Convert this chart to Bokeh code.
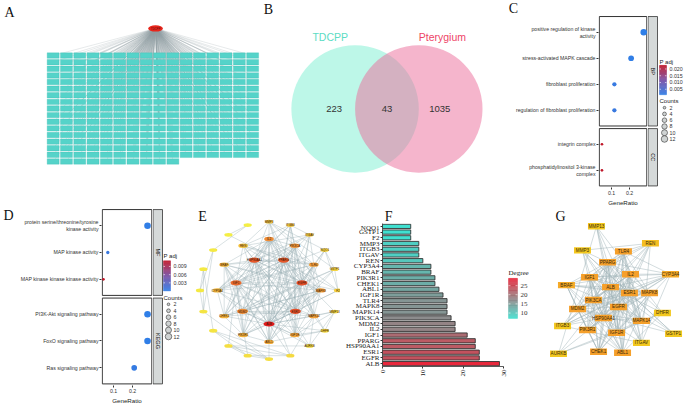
import math
from bokeh.plotting import figure
from bokeh.layouts import row, column
from bokeh.models import (Range1d, FactorRange, FixedTicker, LinearColorMapper,
                          ColumnDataSource)
from bokeh.transform import transform
from bokeh.core.properties import value
from bokeh.embed import file_html
from bokeh.resources import INLINE

# ======================= DATA =======================
# A / B : Venn of TDCPP targets vs pterygium genes
venn_sets = ["TDCPP", "Pterygium"]
venn_only_tdcpp = 223
venn_common = 43
venn_only_pter = 1035
hub_name = "TDCPP"

# C : GO (BP / CC) enrichment
c_terms = ["positive regulation of kinase\nactivity", "stress-activated MAPK cascade",
           "fibroblast proliferation", "regulation of fibroblast proliferation",
           "integrin complex", "phosphatidylinositol 3-kinase\ncomplex"]
c_facets = ["BP", "BP", "BP", "BP", "CC", "CC"]
c_ratio = [0.279, 0.209, 0.116, 0.116, 0.047, 0.047]
c_count = [12, 9, 5, 5, 2, 2]
c_padj = [0.0009, 0.0013, 0.0021, 0.0024, 0.0227, 0.0226]
c_padj_ticks = [0.005, 0.010, 0.015, 0.020]

# D : GO (MF) / KEGG enrichment
d_terms = ["protein serine/threonine/tyrosine\nkinase activity", "MAP kinase activity",
           "MAP kinase kinase kinase activity", "PI3K-Akt signaling pathway",
           "FoxO signaling pathway", "Ras signaling pathway"]
d_facets = ["MF", "MF", "MF", "KEGG", "KEGG", "KEGG"]
d_ratio = [0.279, 0.070, 0.047, 0.279, 0.279, 0.209]
d_count = [12, 3, 2, 12, 12, 9]
d_padj = [0.0002, 0.0008, 0.0111, 0.0000, 0.0001, 0.0005]
d_padj_ticks = [0.003, 0.006, 0.009]

count_breaks = [2, 4, 6, 8, 10, 12]

# F : degree of hub genes
f_genes = ["NQO1", "GSTP1", "F2", "MMP3", "ITGB3", "ITGAV", "REN", "CYP3A4", "BRAF",
           "PIK3R1", "CHEK1", "ABL1", "IGF1R", "TLR4", "MAPK8", "MAPK14", "PIK3CA",
           "MDM2", "IL2", "IGF1", "PPARG", "HSP90AA1", "ESR1", "EGFR", "ALB"]
f_degree = [7, 7, 7, 9, 9, 9, 10, 12, 12, 13, 13, 14, 15, 16, 16, 16, 17, 18, 18,
            21, 23, 23, 24, 24, 29]
f_ticks = [0, 10, 20, 30]
f_cbar_ticks = [10, 15, 20, 25]

# E : PPI network (extra low-degree nodes, estimated; their labels are unreadable)
e_extra_genes = ["MMP13", "DHFR", "AURKB"]
e_extra_degree = [6, 6, 6]
e_unlabeled_degree = [6, 5, 5, 5, 4, 4, 3, 3, 3, 2, 2]
e_ring_sizes = [7, 12, 20]

# G : core network, node layout (normalised 0..1)
g_genes = ["MMP13", "REN", "MMP3", "TLR4", "PPARG", "IL2", "CYP3A4", "IGF1", "BRAF", "ALB",
           "ESR1", "MAPK8", "PIK3CA", "EGFR", "MDM2", "DHFR", "HSP90AA1", "MAPK14", "ITGB3",
           "PIK3R1", "IGF1R", "GSTP1", "ITGAV", "AURKB", "CHEK1", "ABL1"]
g_layout_x = [0.413, 0.773, 0.320, 0.593, 0.487, 0.640, 0.907, 0.367, 0.213, 0.507,
              0.633, 0.767, 0.393, 0.560, 0.287, 0.853, 0.460, 0.713, 0.187,
              0.353, 0.547, 0.927, 0.713, 0.160, 0.427, 0.587]
g_layout_y = [0.108, 0.192, 0.227, 0.232, 0.286, 0.345, 0.345, 0.360, 0.399, 0.409,
              0.438, 0.438, 0.473, 0.507, 0.517, 0.537, 0.562, 0.576, 0.601,
              0.621, 0.635, 0.640, 0.685, 0.739, 0.729, 0.734]

# ======================= HELPERS =======================
SX = 684 / 685
SY = 406 / 408
SANS = "Liberation Sans"
SERIF = "Liberation Serif"
LETTER_SIZE = "14px"


def ramp(stops, n=256):
    rgb = [tuple(int(s[i:i + 2], 16) for i in (1, 3, 5)) for s in stops]
    out = []
    for i in range(n):
        t = i / (n - 1) * (len(rgb) - 1)
        k = min(int(t), len(rgb) - 2)
        f = t - k
        out.append("#%02x%02x%02x" % tuple(
            round(rgb[k][j] + (rgb[k + 1][j] - rgb[k][j]) * f) for j in range(3)))
    return out


def make_fig(region, frame=None, x_range=None, y_range=None, axes=False):
    rx0, ry0, rx1, ry1 = region
    fx0, fy0, fx1, fy1 = frame or region
    W = round(rx1 * SX) - round(rx0 * SX)
    H = round(ry1 * SY) - round(ry0 * SY)
    L = round(fx0 * SX) - round(rx0 * SX)
    R = round(rx1 * SX) - round(fx1 * SX)
    T = round(fy0 * SY) - round(ry0 * SY)
    B = round(ry1 * SY) - round(fy1 * SY)
    kw = {} if axes else dict(x_axis_type=None, y_axis_type=None)
    p = figure(width=W, height=H, x_range=x_range, y_range=y_range, title=None,
               output_backend="svg", toolbar_location=None,
               min_border_left=L, min_border_right=R, min_border_top=T,
               min_border_bottom=B, **kw)
    p.outline_line_color = None
    p.grid.visible = False
    p.background_fill_color = "white"
    p.border_fill_color = "white"
    return p


def letter_text(p, ch, x, y):
    p.text(x=[x], y=[y], text=[ch], text_font=value(SERIF), text_font_size=LETTER_SIZE,
           text_color="#111111", text_align="center", text_baseline="middle")


def letter_strip(region, ch, xr, yr):
    rx0, ry0, rx1, ry1 = region
    p = make_fig(region, x_range=Range1d(rx0, rx1), y_range=Range1d(ry1, ry0))
    letter_text(p, ch, xr, yr)
    return p


def havel_hakimi(deg):
    rem = list(deg)
    n = len(rem)
    edges = []
    while True:
        order = sorted(range(n), key=lambda i: (-rem[i], i))
        v = order[0]
        if rem[v] <= 0:
            break
        tg = [u for u in order[1:] if rem[u] > 0][:rem[v]]
        for u in tg:
            edges.append((v, u))
            rem[u] -= 1
        rem[v] = 0
    return edges


def pt_size(c):
    return 1.9 * math.sqrt(c)


def color_bar(p, pal, low, high, x0, x1, yb, yt, ticks, fmt, tick_x, font, fsize,
              title, title_x, title_y, title_size):
    n = 48
    edges = [yb + (yt - yb) * i / n for i in range(n + 1)]
    cols = [pal[round((i + 0.5) / n * (len(pal) - 1))] for i in range(n)]
    p.quad(left=[x0] * n, right=[x1] * n, bottom=edges[:-1], top=edges[1:],
           fill_color=cols, line_color=cols, line_width=0.3)
    ty = [yb + (t - low) / (high - low) * (yt - yb) for t in ticks]
    tw = (x1 - x0) * 0.22
    p.segment(x0=[x0] * len(ty), y0=ty, x1=[x0 + tw] * len(ty), y1=ty,
              line_color="white", line_width=0.6)
    p.segment(x0=[x1 - tw] * len(ty), y0=ty, x1=[x1] * len(ty), y1=ty,
              line_color="white", line_width=0.6)
    p.text(x=[tick_x] * len(ty), y=ty, text=[fmt % t for t in ticks],
           text_font=value(font), text_font_size=fsize, text_color="#333333",
           text_align="left", text_baseline="middle")
    p.text(x=[title_x], y=[title_y], text=[title], text_font=value(font),
           text_font_size=title_size, text_color="#222222", text_align="left",
           text_baseline="middle")


PAL_PADJ = ramp(["#2f7fe8", "#7850a6", "#c0182a"])

# ======================= PANEL A =======================
RA = (0, 0, 262, 209)
n_targets = venn_only_tdcpp + venn_common
ncol = 16
a_cols = [i % ncol for i in range(n_targets)]
a_rows = [i // ncol for i in range(n_targets)]
ax_ = lambda xr: (xr - 46) / 13.3 - 0.5
ay_ = lambda yr: (yr - 52) / 6.65 - 0.5
pa = make_fig(RA, x_range=Range1d(ax_(0), ax_(262)), y_range=Range1d(ay_(209), ay_(0)))
hub_x, hub_y = (ncol - 1) / 2 + 0.2, -4.1
pa.segment(x0=[hub_x] * n_targets, y0=[hub_y] * n_targets, x1=a_cols, y1=a_rows,
           line_color="#8e9ea3", line_alpha=0.55, line_width=0.4)
pa.rect(x=a_cols, y=a_rows, width=0.9, height=0.82, fill_color="#55d3c9",
        line_color="#3cbcb2", line_width=0.3)
pa.ellipse(x=[hub_x], y=[hub_y], width=1.1, height=0.95, fill_color="#e8261c",
           line_color=None)
pa.text(x=[hub_x], y=[hub_y], text=[hub_name], text_font=value(SANS),
        text_font_size="2.8px", text_color="#5a0a0a", text_align="center",
        text_baseline="middle")
letter_text(pa, "A", ax_(9), ay_(12))

# ======================= PANEL B =======================
RB = (262, 0, 487, 209)
bx_ = lambda xr: (xr - 387) / 64
by_ = lambda yr: (109 - yr) / 64
pb = make_fig(RB, x_range=Range1d(bx_(262), bx_(487)), y_range=Range1d(by_(209), by_(0)))
pb.circle(x=[-0.5], y=[0], radius=1, fill_color="#7cf0d2", fill_alpha=0.5, line_color=None)
pb.circle(x=[0.5], y=[0], radius=1, fill_color="#ec6c9a", fill_alpha=0.5, line_color=None)
pb.text(x=[-0.83, 0, 0.83], y=[0, 0, 0],
        text=[str(venn_only_tdcpp), str(venn_common), str(venn_only_pter)],
        text_font=value(SANS), text_font_size="9.5px", text_color="#333333",
        text_align="center", text_baseline="middle")
pb.text(x=[-0.89, 0.87], y=[1.13, 1.13], text=venn_sets, text_font=value(SANS),
        text_font_size="10.5px", text_color=["#5cdcc4", "#ee4466"],
        text_align="center", text_baseline="middle")
letter_text(pb, "B", bx_(268), by_(9))


# ======================= PANELS C / D =======================
def dot_panel(region_main, frame_main, region_leg, x01, x02, panel_r_ref, strip_r_ref,
              y0_ref, terms, facets, ratios, counts, padj, cb_ticks, cb_box, cnt_box):
    ppu = (x02 - x01) / 0.1
    xd = lambda xr: 0.1 + (xr - x01) / ppu
    yd = lambda yr: (yr - y0_ref) / 2.83
    forder = list(dict.fromkeys(facets))
    ys = [i * 10 + forder.index(f) * 3 for i, f in enumerate(facets)]
    ymax = max(ys)
    y_start, y_end = ymax + 6.6, -6.4
    fx0, fy0, fx1, fy1 = frame_main
    p = make_fig(region_main, frame_main, Range1d(xd(fx0), xd(fx1)),
                 Range1d(y_start, y_end), axes=True)
    frame_leg = (region_leg[0], fy0, region_leg[2], fy1)
    q = make_fig(region_leg, frame_leg, Range1d(xd(region_leg[0]), xd(region_leg[2])),
                 Range1d(y_start, y_end))
    pl = xd(fx0 + 0.8)
    prt = xd(panel_r_ref)
    sl, srt = xd(region_leg[0] + 0.5), xd(strip_r_ref)
    lo, hi = [], []
    for f in forder:
        fy = [y for y, ff in zip(ys, facets) if ff == f]
        lo.append(min(fy) - 6)
        hi.append(max(fy) + 6)
    nf = len(forder)
    p.quad(left=[pl] * nf, right=[prt] * nf, top=lo, bottom=hi, fill_color=None,
           line_color="#333333", line_width=1)
    q.quad(left=[sl] * nf, right=[srt] * nf, top=lo, bottom=hi, fill_color="#d5d9d9",
           line_color="#333333", line_width=0.8)
    q.text(x=[(sl + srt) / 2] * nf, y=[(a + b) / 2 for a, b in zip(lo, hi)], text=forder,
           angle=-math.pi / 2, text_font=value(SANS), text_font_size="5.5px",
           text_color="#1a1a1a", text_align="center", text_baseline="middle")
    mapper = LinearColorMapper(palette=PAL_PADJ, low=min(padj), high=max(padj))
    src = ColumnDataSource(dict(x=ratios, y=ys, s=[pt_size(c) for c in counts], padj=padj))
    p.scatter("x", "y", size="s", source=src, fill_color=transform("padj", mapper),
              line_color=None)
    xa = p.xaxis[0]
    xa.ticker = FixedTicker(ticks=[0.1, 0.2])
    xa.axis_label = "GeneRatio"
    ya = p.yaxis[0]
    ya.ticker = FixedTicker(ticks=ys)
    ya.major_label_overrides = {y: t for y, t in zip(ys, terms)}
    for ax in (xa, ya):
        ax.axis_line_color = None
        ax.major_tick_line_color = "#333333"
        ax.major_tick_out = 2
        ax.major_tick_in = 0
        ax.minor_tick_line_color = None
        ax.major_label_text_font = SANS
        ax.major_label_text_font_size = "5.2px"
        ax.major_label_text_color = "#333333"
        ax.major_label_standoff = 1
        ax.axis_label_text_font = SANS
        ax.axis_label_text_font_size = "6.2px"
        ax.axis_label_text_font_style = "normal"
        ax.axis_label_text_color = "#222222"
        ax.axis_label_standoff = 1
    # colour bar (legend)
    cbx, cbtop, cbbot, cbw, cbtitle_y = cb_box
    color_bar(q, PAL_PADJ, min(padj), max(padj), xd(cbx), xd(cbx + cbw), yd(cbbot),
              yd(cbtop), cb_ticks, "%.3f", xd(cbx + cbw + 3), SANS, "5.3px",
              "P adj", xd(cbx), yd(cbtitle_y), "6px")
    # size legend
    cxc, cxt, ctx, cty, cy0, cdy = cnt_box
    ly = [yd(cy0 + k * cdy) for k in range(len(count_breaks))]
    q.scatter(x=[xd(cxc)] * len(ly), y=ly, size=[pt_size(c) for c in count_breaks],
              fill_color="#cfd3d3", line_color="#333333", line_width=0.6)
    q.text(x=[xd(cxt)] * len(ly), y=ly, text=[str(c) for c in count_breaks],
           text_font=value(SANS), text_font_size="5.3px", text_color="#333333",
           text_align="left", text_baseline="middle")
    q.text(x=[xd(ctx)], y=[yd(cty)], text=["Counts"], text_font=value(SANS),
           text_font_size="6px", text_color="#222222", text_align="left",
           text_baseline="middle")
    return p, q


pc_top = letter_strip((487, 0, 685, 15), "C", 514, 8)
pc, qc = dot_panel((487, 15, 648, 209), (599, 15, 648, 191), (648, 15, 685, 209),
                   612, 630, 647.3, 658, 32,
                   c_terms, c_facets, c_ratio, c_count, c_padj, c_padj_ticks,
                   (660, 68, 100, 7, 64), (665, 670, 660, 107, 114, 6.8))

pd_let = letter_strip((0, 209, 14, 408), "D", 8, 217)
pdd, qd = dot_panel((14, 209, 152, 408), (101, 209, 152, 388), (152, 209, 188, 408),
                    113, 132, 151.3, 162, 222,
                    d_terms, d_facets, d_ratio, d_count, d_padj, d_padj_ticks,
                    (163, 259, 291, 7, 254), (168, 173, 163, 298, 305, 6.8))

# ======================= PANEL E =======================
RE = (188, 209, 340, 408)
e_names = f_genes + e_extra_genes + [""] * len(e_unlabeled_degree)
e_deg = f_degree + e_extra_degree + e_unlabeled_degree
e_edges = havel_hakimi(e_deg)
n_e = len(e_names)
e_order = sorted(range(n_e), key=lambda i: (-e_deg[i], i))
radii = [0.49, 0.75, 1.0]
starts = [270, 90, 90]
dirs = [1, -1, -1]
ew = [0.16, 0.14, 0.12]
eh = [0.075, 0.065, 0.055]
ex, ey, exw, exh = [0.0] * n_e, [0.0] * n_e, [0.0] * n_e, [0.0] * n_e
k = 0
for ring, size in enumerate(e_ring_sizes):
    for j in range(size):
        i = e_order[k]
        k += 1
        a = math.radians(starts[ring] + dirs[ring] * j * 360 / size)
        ex[i], ey[i] = radii[ring] * math.cos(a), radii[ring] * math.sin(a)
        exw[i], exh[i] = ew[ring], eh[ring]
ex_ = lambda xr: (xr - 268.5) / 69
ey_ = lambda yr: (291.3 - yr) / 69
pe = make_fig(RE, x_range=Range1d(ex_(188), ex_(340)), y_range=Range1d(ey_(408), ey_(209)))
pe.segment(x0=[ex[a] for a, b in e_edges], y0=[ey[a] for a, b in e_edges],
           x1=[ex[b] for a, b in e_edges], y1=[ey[b] for a, b in e_edges],
           line_color="#9aafb4", line_alpha=0.75, line_width=0.5)
emap = LinearColorMapper(palette=ramp(["#f4ee44", "#f3a53b", "#e01b1b"]),
                         low=min(e_deg), high=max(e_deg))
esrc = ColumnDataSource(dict(x=ex, y=ey, w=exw, h=exh, deg=e_deg, name=e_names))
pe.ellipse("x", "y", width="w", height="h", source=esrc,
           fill_color=transform("deg", emap), line_color=None)
pe.text("x", "y", text="name", source=esrc, text_font=value(SANS),
        text_font_size="3px", text_color="#3a1a0a", text_align="center",
        text_baseline="middle")
letter_text(pe, "E", ex_(202), ey_(217))

# ======================= PANEL F =======================
pf_top = letter_strip((340, 209, 535, 224), "F", 348, 216.5)
RF = (340, 224, 535, 408)
FF = (383, 224, 535, 368)
f_ppu = (504 - 383) / 30
fx_ = lambda xr: (xr - 383) / f_ppu
fy_ = lambda yr: (368 - yr) / ((368 - 222) / len(f_genes))
pf = make_fig(RF, FF, Range1d(0, fx_(535)), FactorRange(factors=list(reversed(f_genes))),
              axes=True)
f_pal = ramp(["#40e0d0", "#e8283c"])
fmap = LinearColorMapper(palette=f_pal, low=min(f_degree), high=max(f_degree))
fsrc = ColumnDataSource(dict(g=f_genes, d=f_degree))
pf.hbar(y="g", right="d", left=0, height=0.74, source=fsrc,
        fill_color=transform("d", fmap), line_color="#333333", line_width=0.9)
fxa = pf.xaxis[0]
fxa.ticker = FixedTicker(ticks=f_ticks)
fxa.bounds = (0, 30)
fxa.major_label_orientation = math.pi / 2
fya = pf.yaxis[0]
for ax in (fxa, fya):
    ax.axis_line_color = "#333333"
    ax.axis_line_width = 0.8
    ax.major_tick_line_color = "#333333"
    ax.major_tick_out = 2
    ax.major_tick_in = 0
    ax.minor_tick_line_color = None
    ax.major_label_text_font = SERIF
    ax.major_label_text_font_size = "7px"
    ax.major_label_text_color = "#222222"
    ax.major_label_standoff = 1
color_bar(pf, f_pal, min(f_degree), max(f_degree), fx_(509), fx_(518), fy_(319),
          fy_(278), f_cbar_ticks, "%d", fx_(521), SERIF, "7px", "Degree", fx_(509),
          fy_(272.5), "7px")

# ======================= PANEL G =======================
RG = (535, 209, 685, 408)
g_idx = [e_names.index(g) for g in g_genes]
g_local = {gi: j for j, gi in enumerate(g_idx)}
g_edges = [(g_local[a], g_local[b]) for a, b in e_edges if a in g_local and b in g_local]
g_deg = [e_deg[i] for i in g_idx]
gx_ = lambda xr: (xr - 535) / 150
gy_ = lambda yr: (yr - 205) / 203
pg = make_fig(RG, x_range=Range1d(gx_(535), gx_(685)), y_range=Range1d(gy_(408), gy_(209)))
pg.segment(x0=[g_layout_x[a] for a, b in g_edges], y0=[g_layout_y[a] for a, b in g_edges],
           x1=[g_layout_x[b] for a, b in g_edges], y1=[g_layout_y[b] for a, b in g_edges],
           line_color="#9fb3b8", line_alpha=0.85, line_width=0.55)
gmap = LinearColorMapper(palette=ramp(["#f3c81f", "#f5a02b"]), low=9, high=13)
gsrc = ColumnDataSource(dict(x=g_layout_x, y=g_layout_y, deg=g_deg, name=g_genes))
pg.rect("x", "y", width=17 * SX, height=6.5 * SY, width_units="screen",
        height_units="screen", source=gsrc, fill_color=transform("deg", gmap),
        line_color=None)
pg.text("x", "y", text="name", source=gsrc, text_font=value(SANS),
        text_font_size="4.6px", text_color="#3a2a0a", text_align="center",
        text_baseline="middle")
letter_text(pg, "G", gx_(561), gy_(217))

# ======================= LAYOUT =======================
row1 = row(pa, pb, column(pc_top, row(pc, qc)))
row2 = row(row(pd_let, pdd, qd), pe, column(pf_top, pf), pg)
layout = column(row1, row2)
open("out.html", "w").write(file_html(layout, INLINE))
